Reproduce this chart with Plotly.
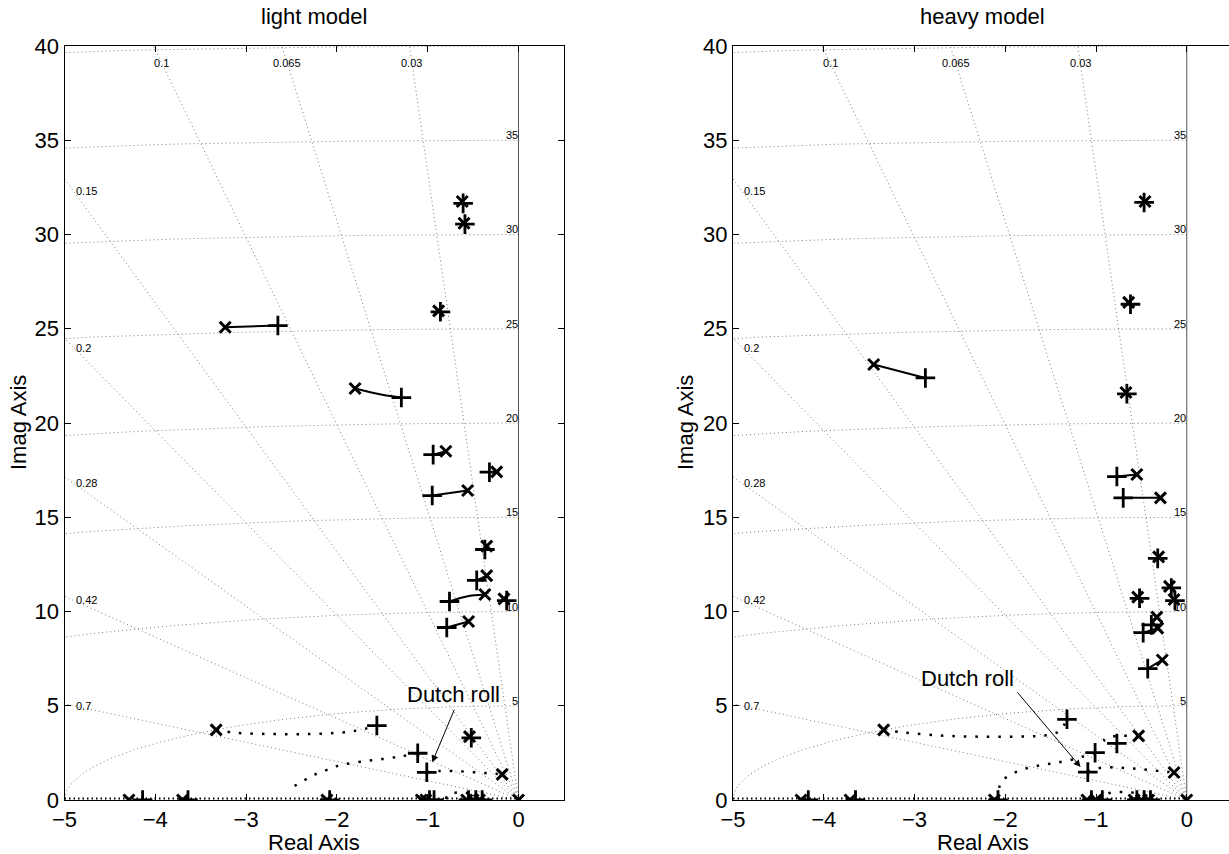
import numpy as np
import plotly.graph_objects as go

# ---------------- s-plane grid (damping ratio rays, natural frequency arcs) ----------------
zeta_lines = [0.7, 0.42, 0.28, 0.2, 0.15, 0.1, 0.065, 0.03]
zeta_labels = ["0.7", "0.42", "0.28", "0.2", "0.15", "0.1", "0.065", "0.03"]
wn_circles = [5, 10, 15, 20, 25, 30, 35, 40]
wn_labels = ["5", "10", "15", "20", "25", "30", "35", ""]

x_ticks = [-5, -4, -3, -2, -1, 0]
y_ticks = [0, 5, 10, 15, 20, 25, 30, 35, 40]

# ---------------- light model ----------------
light_pole_re = [-0.62, -0.60, -0.88, -3.23, -1.80, -0.80, -0.24, -0.56, -0.35, -0.35,
                 -0.37, -0.16, -0.55, -0.54, -3.33, -0.18]
light_pole_im = [31.75, 30.60, 25.95, 25.08, 21.83, 18.50, 17.41, 16.42, 13.47, 11.90,
                 10.90, 10.67, 9.47, 3.36, 3.72, 1.36]
light_end_re = [-0.61, -0.59, -0.86, -2.65, -1.29, -0.94, -0.32, -0.95, -0.37, -0.46,
                -0.76, -0.13, -0.79, -0.52, -1.56, -1.11, -1.01]
light_end_im = [31.65, 30.55, 25.90, 25.17, 21.35, 18.32, 17.39, 16.15, 13.29, 11.65,
                10.53, 10.58, 9.15, 3.30, 3.95, 2.48, 1.47]
light_axis_pole = [-4.29, -3.70, -2.11, -1.07, -1.02, -0.57, -0.50, -0.43, 0.0]
light_axis_end = [-4.14, -3.64, -2.08, -0.98, -0.93, -0.55, -0.47, -0.40]

light_solid_re = [[-3.23, -2.65], [-1.80, -1.50, -1.29], [-0.80, -0.94], [-0.24, -0.32],
                  [-0.56, -0.95], [-0.35, -0.46], [-0.37, -0.57, -0.76], [-0.55, -0.79]]
light_solid_im = [[25.08, 25.17], [21.83, 21.50, 21.35], [18.50, 18.32], [17.41, 17.39],
                  [16.42, 16.15], [11.90, 11.65], [10.90, 10.80, 10.53], [9.47, 9.15]]

light_dotted_re = [
    [-3.33, -3.10, -2.70, -2.30, -1.95, -1.79, -1.67, -1.56],
    [-1.11, -1.29, -1.50, -1.71, -1.90, -2.00, -2.08, -2.18, -2.28, -2.39, -2.55],
    [-1.01, -0.87, -0.72, -0.57, -0.42, -0.31, -0.18],
    [-0.80, -0.78, -0.72, -0.61, -0.52],
]
light_dotted_im = [
    [3.72, 3.56, 3.50, 3.50, 3.58, 3.68, 3.80, 3.95],
    [2.48, 2.32, 2.17, 2.05, 1.91, 1.80, 1.65, 1.47, 1.27, 0.95, 0.53],
    [1.47, 1.54, 1.54, 1.50, 1.45, 1.41, 1.36],
    [0.05, 0.25, 0.37, 0.40, 0.32],
]

light_note = "Dutch roll"
light_note_xy = (-0.72, 5.58)
light_arrow_tail = (-0.70, 4.87)
light_arrow_head = (-0.95, 2.00)

# ---------------- heavy model ----------------
heavy_pole_re = [-3.45, -0.46, -0.64, -0.67, -0.55, -0.29, -0.31, -0.19, -0.54, -0.14,
                 -0.33, -0.32, -0.27, -3.34, -0.53, -0.14]
heavy_pole_im = [23.10, 31.75, 26.40, 21.62, 17.27, 16.03, 12.90, 11.33, 10.76, 10.64,
                 9.70, 9.12, 7.43, 3.72, 3.40, 1.46]
heavy_end_re = [-2.88, -0.47, -0.62, -0.66, -0.77, -0.70, -0.32, -0.17, -0.52, -0.13,
                -0.39, -0.48, -0.43, -1.32, -0.77, -1.01, -1.09]
heavy_end_im = [22.39, 31.70, 26.30, 21.55, 17.16, 16.03, 12.82, 11.25, 10.70, 10.58,
                9.29, 8.88, 6.97, 4.28, 3.00, 2.51, 1.48]
heavy_axis_pole = [-4.25, -3.71, -2.12, -1.10, -1.00, -0.58, -0.50, -0.42, 0.0]
heavy_axis_end = [-4.17, -3.65, -2.08, -1.05, -0.93, -0.55, -0.47, -0.40]

heavy_solid_re = [[-3.45, -2.88], [-0.55, -0.77], [-0.29, -0.70], [-0.33, -0.39],
                  [-0.32, -0.48], [-0.27, -0.43]]
heavy_solid_im = [[23.10, 22.39], [17.27, 17.16], [16.03, 16.03], [9.70, 9.29],
                  [9.12, 8.88], [7.43, 6.97]]

heavy_dotted_re = [
    [-3.34, -3.13, -2.71, -2.30, -1.88, -1.63, -1.47, -1.39, -1.32],
    [-0.53, -0.72, -0.87, -0.91, -0.85, -0.77],
    [-1.01, -1.26, -1.47, -1.66, -1.85, -1.99, -2.05, -2.07, -2.08],
    [-1.09, -0.98, -0.85, -0.74, -0.63, -0.52, -0.41, -0.28, -0.14],
    [-0.97, -0.92, -0.81, -0.63, -0.52],
]
heavy_dotted_im = [
    [3.72, 3.59, 3.42, 3.36, 3.36, 3.40, 3.50, 3.72, 4.28],
    [3.40, 3.40, 3.33, 3.19, 3.05, 3.00],
    [2.51, 2.15, 1.95, 1.80, 1.55, 1.20, 0.94, 0.50, 0.05],
    [1.48, 1.68, 1.73, 1.72, 1.68, 1.65, 1.59, 1.53, 1.46],
    [0.05, 0.26, 0.41, 0.41, 0.35],
]

heavy_note = "Dutch roll"
heavy_note_xy = (-2.42, 6.46)
heavy_arrow_tail = (-1.88, 5.79)
heavy_arrow_head = (-1.17, 1.75)

# ---------------- figure layout ----------------
W, H = 1229, 854
FONT = "Liberation Sans, Arial, Helvetica, sans-serif"
GRID_COLOR = "#7a7a7a"
y_dom = [54 / H, 808 / H]
left_dom = [64.5 / W, 563.9 / W]
right_dom = [733 / W, 1.0]
right_xmax = -5 + (W - 733) / 90.75

fig = go.Figure()
annotations = []


def add_panel(xa, ya, pole_re, pole_im, end_re, end_im, axis_pole, axis_end,
              solid_re, solid_im, dotted_re, dotted_im, note, note_xy, tail, head):
    kw = dict(xaxis=xa, yaxis=ya, showlegend=False, hoverinfo="skip")
    xr, yr = xa, ya

    # natural frequency arcs
    th = np.linspace(np.pi / 2, np.pi, 200)
    for wn in wn_circles:
        fig.add_trace(go.Scatter(x=wn * np.cos(th), y=wn * np.sin(th), mode="lines",
                                 line=dict(color=GRID_COLOR, width=1, dash="1px,3px"), **kw))
    # damping ratio rays
    for z in zeta_lines:
        fig.add_trace(go.Scatter(x=[0, -80 * z], y=[0, 80 * np.sqrt(1 - z * z)], mode="lines",
                                 line=dict(color=GRID_COLOR, width=1, dash="1px,3px"), **kw))
    # imaginary axis
    fig.add_trace(go.Scatter(x=[0, 0], y=[0, 40], mode="lines",
                             line=dict(color="#555555", width=1), **kw))
    # real-axis locus
    fig.add_trace(go.Scatter(x=[-5, 0], y=[0.08, 0.08], mode="lines",
                             line=dict(color="black", width=2, dash="1.5px,3px"), **kw))

    for bx, by in zip(solid_re, solid_im):
        fig.add_trace(go.Scatter(x=bx, y=by, mode="lines",
                                 line=dict(color="black", width=2, shape="spline"), **kw))
    for bx, by in zip(dotted_re, dotted_im):
        fig.add_trace(go.Scatter(x=bx, y=by, mode="lines",
                                 line=dict(color="black", width=2.5, shape="spline",
                                           dash="2.5px,9px"), **kw))

    # poles (x) and end points (+)
    fig.add_trace(go.Scatter(x=list(pole_re) + list(axis_pole),
                             y=list(pole_im) + [0] * len(axis_pole), mode="markers",
                             marker=dict(symbol="x-thin", size=11, color="black",
                                         line=dict(width=3, color="black")), **kw))
    fig.add_trace(go.Scatter(x=list(end_re) + list(axis_end),
                             y=list(end_im) + [0] * len(axis_end), mode="markers",
                             marker=dict(symbol="cross-thin", size=14, color="black",
                                         line=dict(width=2.8, color="black")), **kw))

    # grid labels
    for z, lab in zip(zeta_lines, zeta_labels):
        s = np.sqrt(1 - z * z) / z
        if 5 * s > 39.5:
            annotations.append(dict(x=-39.1 / s, y=39.1, xref=xr, yref=yr, text=lab,
                                    showarrow=False, xanchor="center", yanchor="middle",
                                    font=dict(family=FONT, size=11, color="black")))
        else:
            annotations.append(dict(x=-4.9, y=4.9 * s, xref=xr, yref=yr, text=lab,
                                    showarrow=False, xanchor="left", yanchor="middle",
                                    font=dict(family=FONT, size=11, color="black")))
    for wn, lab in zip(wn_circles, wn_labels):
        if lab:
            annotations.append(dict(x=0, y=wn, xref=xr, yref=yr, text=lab, showarrow=False,
                                    xanchor="right", yanchor="bottom", xshift=1, yshift=-3,
                                    font=dict(family=FONT, size=11, color="black")))

    # Dutch roll annotation
    annotations.append(dict(x=note_xy[0], y=note_xy[1], xref=xr, yref=yr, text=note,
                            showarrow=False, xanchor="center", yanchor="middle",
                            font=dict(family=FONT, size=22, color="black")))
    annotations.append(dict(x=head[0], y=head[1], ax=tail[0], ay=tail[1], xref=xr, yref=yr,
                            axref=xr, ayref=yr, text="", showarrow=True, arrowhead=2,
                            arrowsize=1.4, arrowwidth=1, arrowcolor="black", standoff=0))


add_panel("x", "y", light_pole_re, light_pole_im, light_end_re, light_end_im,
          light_axis_pole, light_axis_end, light_solid_re, light_solid_im,
          light_dotted_re, light_dotted_im, light_note, light_note_xy,
          light_arrow_tail, light_arrow_head)
add_panel("x2", "y2", heavy_pole_re, heavy_pole_im, heavy_end_re, heavy_end_im,
          heavy_axis_pole, heavy_axis_end, heavy_solid_re, heavy_solid_im,
          heavy_dotted_re, heavy_dotted_im, heavy_note, heavy_note_xy,
          heavy_arrow_tail, heavy_arrow_head)

# titles and axis labels
left_c = (64.5 + 563.9) / 2 / W
right_c = (733 + 733 + 499.4) / 2 / W
for cx, title in [(left_c, "light model"), (right_c, "heavy model")]:
    annotations.append(dict(x=cx, y=1 - 16 / H, xref="paper", yref="paper", text=title,
                            showarrow=False, xanchor="center", yanchor="middle",
                            font=dict(family=FONT, size=22, color="black")))
    annotations.append(dict(x=cx, y=1 - 842 / H, xref="paper", yref="paper", text="Real Axis",
                            showarrow=False, xanchor="center", yanchor="middle",
                            font=dict(family=FONT, size=22, color="black")))
for ix in [18 / W, 685 / W]:
    annotations.append(dict(x=ix, y=1 - 423 / H, xref="paper", yref="paper", text="Imag Axis",
                            showarrow=False, xanchor="center", yanchor="middle", textangle=-90,
                            font=dict(family=FONT, size=22, color="black")))

axis_common = dict(showgrid=False, zeroline=False, ticks="inside", ticklen=6, tickwidth=1,
                   tickcolor="black", linecolor="black", linewidth=1, showline=True,
                   automargin=False,
                   tickfont=dict(family=FONT, size=22, color="black"))

fig.update_layout(
    width=W, height=H, margin=dict(l=0, r=0, t=0, b=0, autoexpand=False),
    paper_bgcolor="white", plot_bgcolor="white",
    xaxis=dict(domain=left_dom, range=[-5, 0.5], tickvals=x_ticks, mirror="ticks",
               anchor="y", **axis_common),
    yaxis=dict(domain=y_dom, range=[0, 40], tickvals=y_ticks, mirror="ticks",
               anchor="x", **axis_common),
    xaxis2=dict(domain=right_dom, range=[-5, right_xmax], tickvals=x_ticks, mirror="ticks",
                anchor="y2", **axis_common),
    yaxis2=dict(domain=y_dom, range=[0, 40], tickvals=y_ticks, mirror=False,
                anchor="x2", **axis_common),
    annotations=annotations,
)

fig.write_html("out.html")
